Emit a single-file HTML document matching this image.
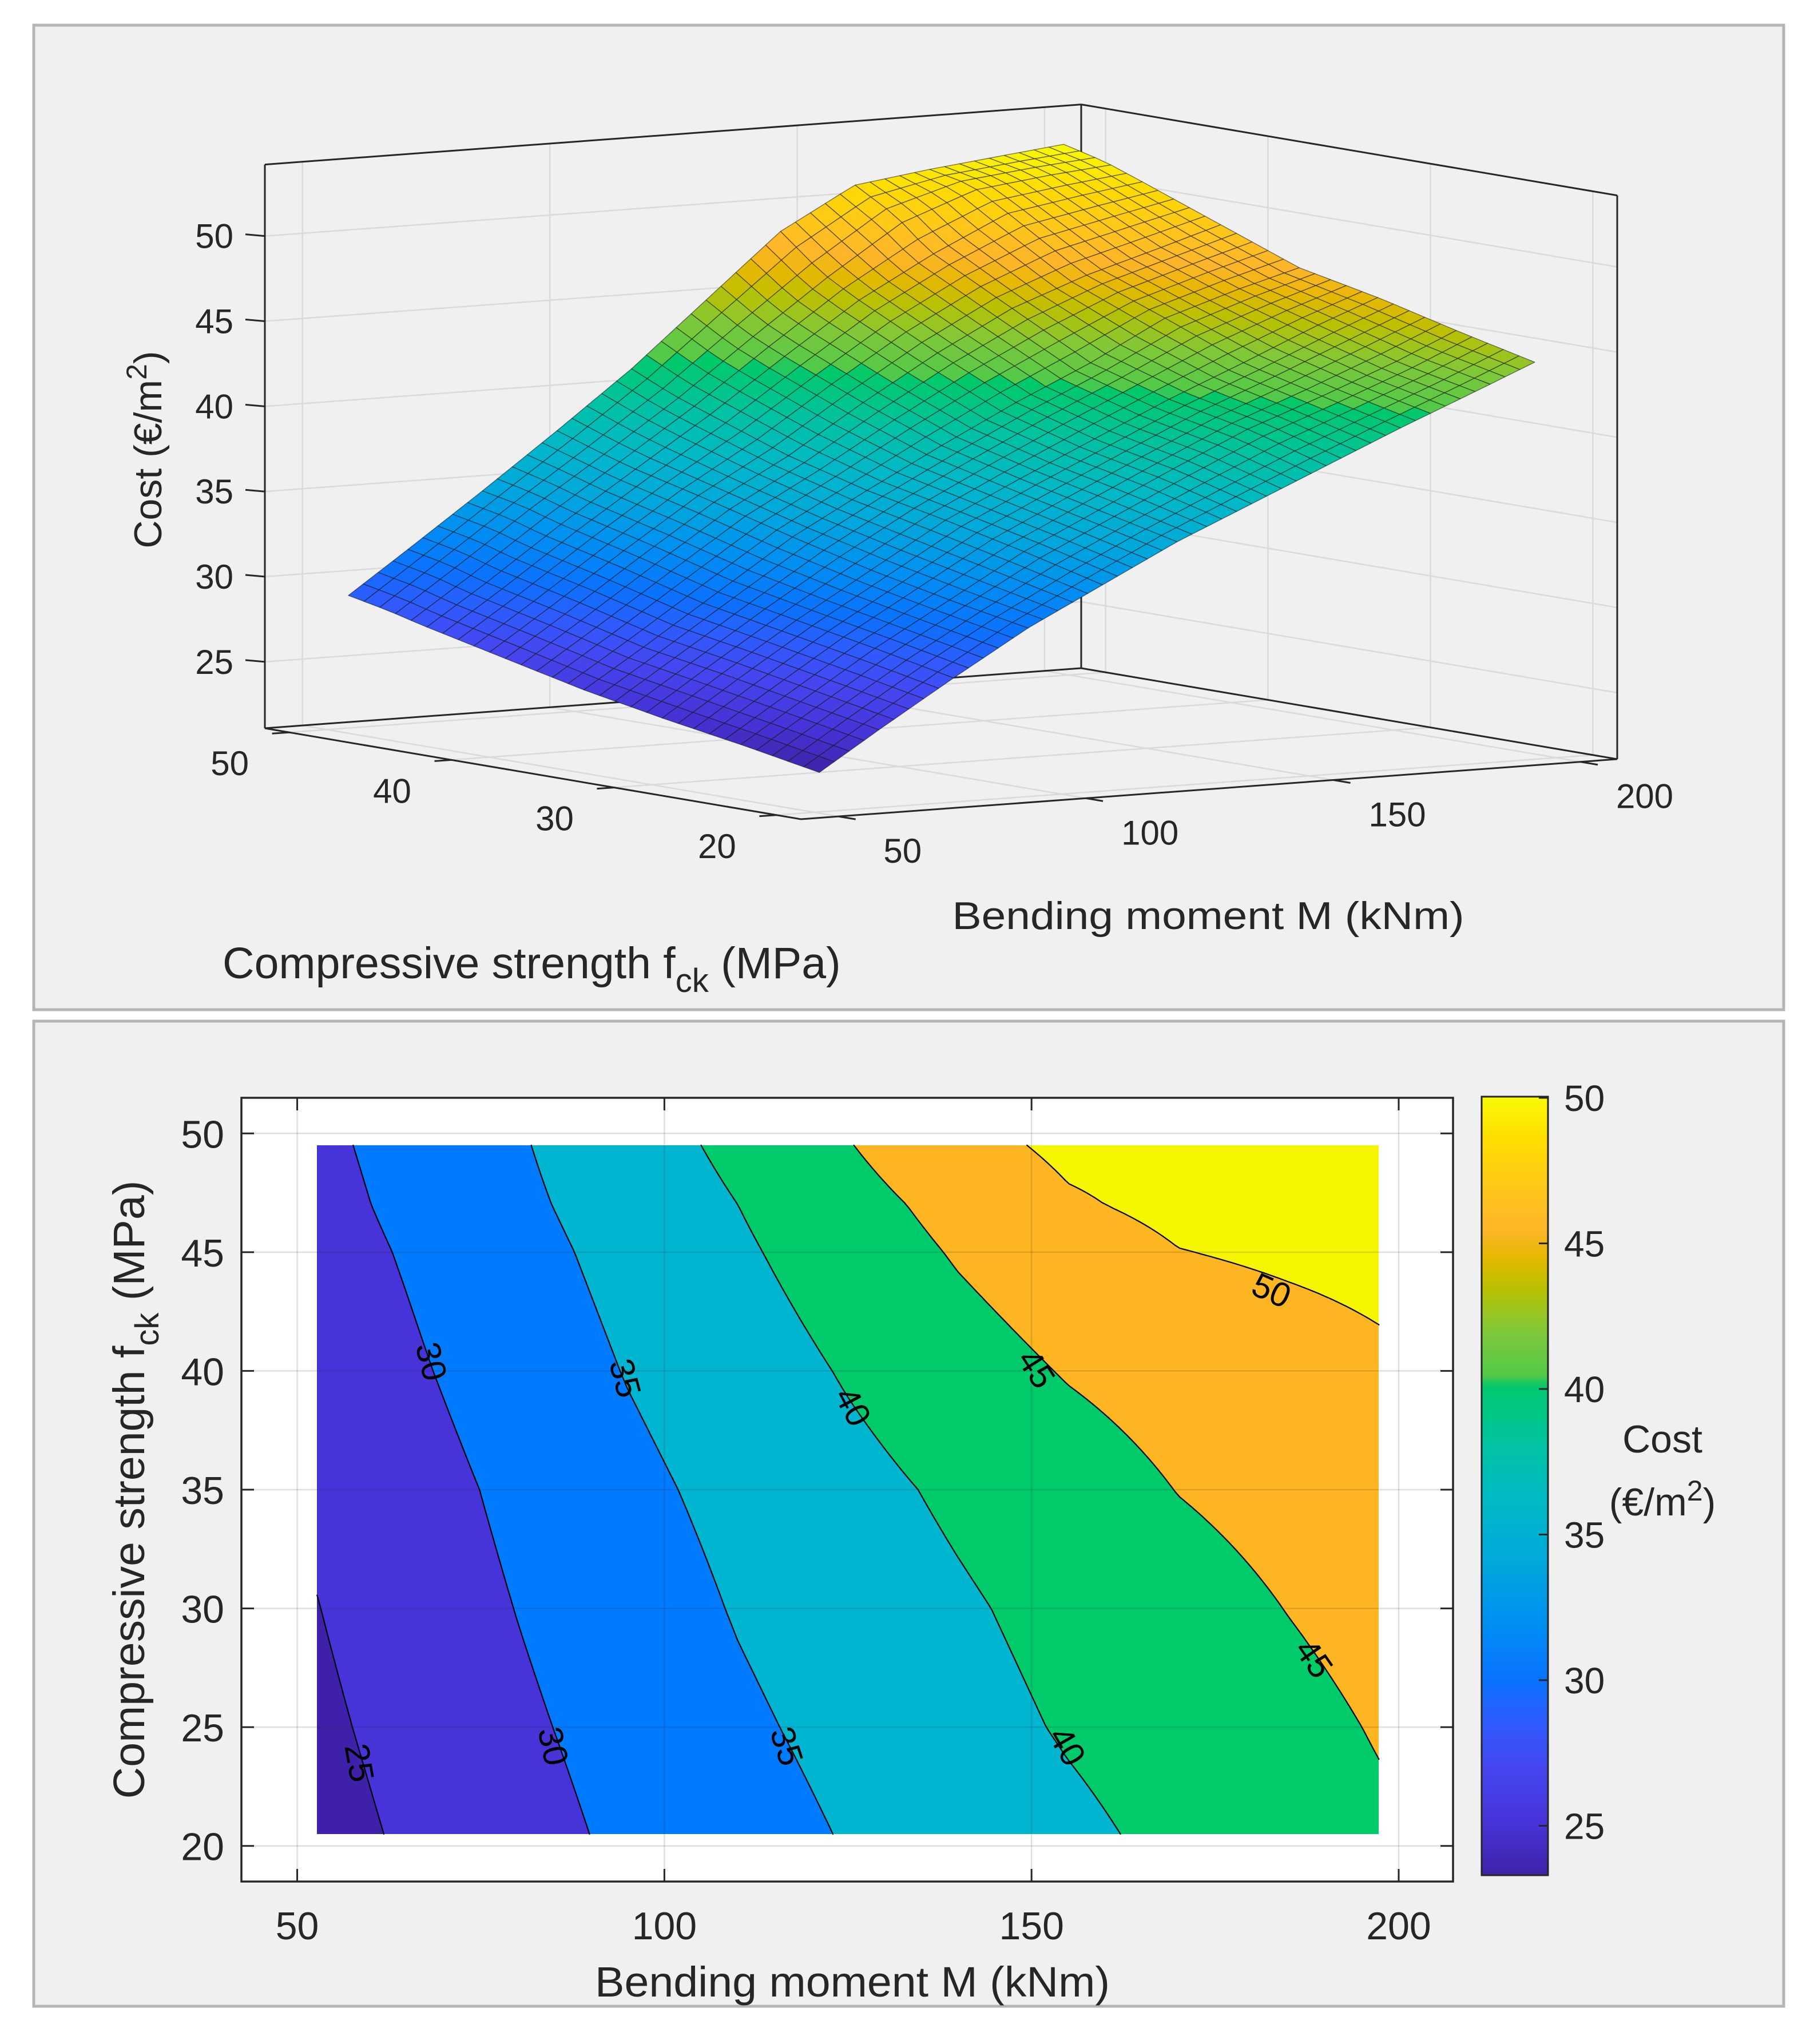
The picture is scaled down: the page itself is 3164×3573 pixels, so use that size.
<!DOCTYPE html>
<html><head><meta charset="utf-8"><style>
html,body{margin:0;padding:0;background:#fff;}
#root{position:relative;width:3164px;height:3573px;overflow:hidden;background:#fff;font-family:"Liberation Sans",sans-serif;}
svg,canvas{position:absolute;left:0;top:0;}
</style></head><body>
<div id="root">
<svg id="bg" width="3164" height="3573">
  <rect x="59" y="44" width="3059" height="1721" fill="#f0f0f0" stroke="#b4b4b4" stroke-width="5"/>
  <rect x="59" y="1785" width="3059" height="1722" fill="#f0f0f0" stroke="#b4b4b4" stroke-width="5"/>
  <rect x="422" y="1919" width="2118" height="1370" fill="#fff"/>
</svg>
<canvas id="fill"></canvas>
<svg id="fg" width="3164" height="3573" font-family="Liberation Sans, sans-serif" fill="#262626">
  <g id="s3d"></g>
  <g id="ctr"></g>
  <g id="cbar"></g>
</svg>
</div>
<script>
// ---- data ----
const M_VALUES = [52.7, 65, 80, 95, 110, 125, 140, 155, 170, 185, 197.3];
const FCK_VALUES = [20.5, 25, 30, 35, 40, 45, 47, 49.5];
const COST_F20 = [23.3,25.6,28.3,30.9,33.1,35.3,37.2,39.1,41.0,42.8,44.3];
const COST_F25 = [24.1,26.4,29.2,31.7,34.2,36.3,38.4,40.4,42.0,43.7,45.3];
const COST_F30 = [24.9,27.3,30.1,32.7,35.3,37.4,39.4,41.4,43.2,45.1,46.5];
const COST_F35 = [25.8,28.1,31.0,33.9,36.3,38.6,40.8,42.8,45.1,46.5,47.5];
const COST_F40 = [26.9,29.3,32.3,35.2,37.6,40.4,43.0,45.3,46.9,48.2,49.3];
const COST_F45 = [28.0,30.4,33.5,36.4,39.3,42.4,45.4,47.8,49.9,50.6,51.1];
const COST_F47 = [28.5,31.0,34.1,37.0,40.0,43.3,46.5,49.5,51.0,51.5,51.8];
const COST_F50 = [29.0,31.5,34.6,37.8,41.1,44.8,48.5,50.9,51.5,52.0,52.4];
const COST_ROWS = [COST_F20,COST_F25,COST_F30,COST_F35,COST_F40,COST_F45,COST_F47,COST_F50];
const CONTOUR_LEVELS = [25,30,35,40,45,50];
const M_TICKS = [50,100,150,200];
const FCK_TICKS_3D = [20,30,40,50];
const FCK_TICKS = [20,25,30,35,40,45,50];
const COST_TICKS = [25,30,35,40,45,50];
const CBAR_TICKS = [25,30,35,40,45,50];
const LABEL_M = [68.3,94.7,125.7,150.7,182.7,58.5,84.9,116.7,154.9,188.5];
const LABEL_F = [40.4,39.7,38.5,40.1,43.4,23.5,24.2,24.2,24.2,27.9];
const LABEL_TXT = ['30','35','40','45','50','25','30','35','40','45'];
const LABEL_ROT = [76,75,62,57,24,80,78,72,60,55];

// ---- styles ----
const BAND_COLORS = ['#3f20a8','#4634d8','#007bff','#00b5d0','#00cb6a','#fdb521','#f6f600'];
const CMAP = [[23.3,'#3e22a6'],[25,'#4633d6'],[27,'#4646f0'],[28.6,'#2d5cff'],[30,'#0a72ff'],[32,'#0090f2'],[34,'#00a8dc'],[36,'#00b8c8'],[38,'#00c2a4'],[40.2,'#00c96a'],[40.3,'#4fc94a'],[42,'#80c838'],[43.5,'#bcc000'],[44.5,'#e6b800'],[45.5,'#feb52a'],[47,'#fec818'],[48.5,'#fedc00'],[50,'#f8fa05']];
const NS='http://www.w3.org/2000/svg';
function hex(c){return [parseInt(c.slice(1,3),16),parseInt(c.slice(3,5),16),parseInt(c.slice(5,7),16)];}
function cmap(z){
  if(z<=CMAP[0][0]) return hex(CMAP[0][1]);
  for(let i=0;i<CMAP.length-1;i++){
    if(z<=CMAP[i+1][0]){const t=(z-CMAP[i][0])/(CMAP[i+1][0]-CMAP[i][0]);const a=hex(CMAP[i][1]),b=hex(CMAP[i+1][1]);return a.map((v,k)=>Math.round(v+(b[k]-v)*t));}
  }
  return hex(CMAP[CMAP.length-1][1]);
}
function rgb(a){return 'rgb('+a.join(',')+')';}
function el(tag,attrs,parent){const e=document.createElementNS(NS,tag);for(const k in attrs)e.setAttribute(k,attrs[k]);parent.appendChild(e);return e;}
function interpZ(m,f){
  const Ms=M_VALUES,Fs=FCK_VALUES;
  let i=0;while(i<Ms.length-2&&m>Ms[i+1])i++;
  let j=0;while(j<Fs.length-2&&f>Fs[j+1])j++;
  const t=Math.max(0,Math.min(1,(m-Ms[i])/(Ms[i+1]-Ms[i])));
  const s=Math.max(0,Math.min(1,(f-Fs[j])/(Fs[j+1]-Fs[j])));
  const r0=COST_ROWS[j],r1=COST_ROWS[j+1];
  return (1-t)*(1-s)*r0[i]+t*(1-s)*r0[i+1]+(1-t)*s*r1[i]+t*s*r1[i+1];
}

// ================= 3D surface =================
const MMIN=42.4,MMAX=207.4,FMIN=18.5,FMAX=51.5,ZMIN=21.1,ZMAX=54.2;
function P(m,f,z){const u=(m-MMIN)/(MMAX-MMIN),v=(f-FMIN)/(FMAX-FMIN);return [1400+u*1427-v*937,1432-u*105-v*159-(z-ZMIN)*29.77];}
const g3=document.getElementById('s3d');
function line3(a,b,stroke,w,name,parent){const e=el('line',{x1:a[0],y1:a[1],x2:b[0],y2:b[1],stroke:stroke,'stroke-width':w},parent||g3);

return e;}
const GC='#dadada';
M_TICKS.forEach(m=>{line3(P(m,FMAX,ZMIN),P(m,FMAX,ZMAX),GC,2.5,'grid-m-wall');line3(P(m,FMIN,ZMIN),P(m,FMAX,ZMIN),GC,2.5,'grid-m-floor');});
FCK_TICKS_3D.forEach(f=>{line3(P(MMAX,f,ZMIN),P(MMAX,f,ZMAX),GC,2.5,'grid-fck-wall');line3(P(MMIN,f,ZMIN),P(MMAX,f,ZMIN),GC,2.5,'grid-fck-floor');});
COST_TICKS.forEach(z=>{line3(P(MMIN,FMAX,z),P(MMAX,FMAX,z),GC,2.5,'grid-cost-wall');line3(P(MMAX,FMAX,z),P(MMAX,FMIN,z),GC,2.5,'grid-cost-wall');});
const BC='#262626';
[[P(MMIN,FMAX,ZMIN),P(MMIN,FMAX,ZMAX)],[P(MMIN,FMAX,ZMAX),P(MMAX,FMAX,ZMAX)],[P(MMAX,FMAX,ZMAX),P(MMAX,FMIN,ZMAX)],
 [P(MMAX,FMIN,ZMIN),P(MMAX,FMIN,ZMAX)],[P(MMAX,FMAX,ZMIN),P(MMAX,FMAX,ZMAX)],[P(MMIN,FMAX,ZMIN),P(MMAX,FMAX,ZMIN)],
 [P(MMAX,FMAX,ZMIN),P(MMAX,FMIN,ZMIN)],[P(MMIN,FMAX,ZMIN),P(MMIN,FMIN,ZMIN)],[P(MMIN,FMIN,ZMIN),P(MMAX,FMIN,ZMIN)]]
 .forEach(p=>line3(p[0],p[1],BC,3,'axes-box-edge'));
const NM=48,NF=30,m0=M_VALUES[0],m1=M_VALUES[M_VALUES.length-1],f0=FCK_VALUES[0],f1=FCK_VALUES[FCK_VALUES.length-1];
let zAll=[];COST_ROWS.forEach(r=>zAll=zAll.concat(r));
const ZLO=Math.min.apply(null,zAll),ZHI=Math.max.apply(null,zAll);
function surfColor(z){return cmap(23.3+(z-ZLO)*(50-23.3)/(ZHI-ZLO));}
const quads=[];
for(let i=0;i<NM;i++)for(let j=0;j<NF;j++){
  const ma=m0+(m1-m0)*i/NM,mb=m0+(m1-m0)*(i+1)/NM,fa=f0+(f1-f0)*j/NF,fb=f0+(f1-f0)*(j+1)/NF;
  const z=[interpZ(ma,fa),interpZ(mb,fa),interpZ(mb,fb),interpZ(ma,fb)];
  const pts=[P(ma,fa,z[0]),P(mb,fa,z[1]),P(mb,fb,z[2]),P(ma,fb,z[3])];
  const u=((ma+mb)/2-MMIN)/(MMAX-MMIN),v=((fa+fb)/2-FMIN)/(FMAX-FMIN);
  quads.push({pts,z:(z[0]+z[1]+z[2]+z[3])/4,d:105*u+159*v});
}
quads.sort((a,b)=>b.d-a.d);
const gs=el('g',{},g3);


quads.forEach(q=>{const p=el('polygon',{points:q.pts.map(p=>p[0].toFixed(1)+','+p[1].toFixed(1)).join(' '),fill:rgb(surfColor(q.z)),stroke:'rgba(20,20,20,0.55)','stroke-width':1.4,'stroke-linejoin':'round'},gs);

});
function txt(x,y,s,size,anchor,parent,name,extra){const t=el('text',Object.assign({x:x,y:y,'font-size':size,'text-anchor':anchor||'middle'},extra||{}),parent);t.textContent=s;

return t;}
COST_TICKS.forEach(z=>{const p=P(MMIN,FMAX,z);line3(p,[p[0]-34,p[1]-3],BC,3,'z-tick');txt(p[0]-55,p[1]+21,String(z),60,'end',g3,'z-tick-label');});
FCK_TICKS_3D.forEach(f=>{const p=P(MMIN,f,ZMIN);line3(p,[p[0]-30,p[1]+2],BC,3,'fck-tick');txt(p[0]-104,p[1]+75,String(f),60,'middle',g3,'fck-tick-label');});
M_TICKS.forEach(m=>{const p=P(m,FMIN,ZMIN);line3(p,[p[0]+30,p[1]+5],BC,3,'m-tick');txt(p[0]+112,p[1]+81,String(m),60,'middle',g3,'m-tick-label');});
txt(2112,1624,'Bending moment M (kNm)',68,'middle',g3,'x-axis-title-3d',{textLength:895,lengthAdjust:'spacingAndGlyphs'});
(function(){const t=el('text',{x:389,y:1710,'font-size':77,'text-anchor':'start'},g3);


t.innerHTML='Compressive strength f<tspan dy="24" font-size="58">ck</tspan><tspan dy="-24"> (MPa)</tspan>';})();
(function(){const t=el('text',{x:0,y:0,'font-size':68,'text-anchor':'middle',transform:'translate(282,786) rotate(-90)'},g3);


t.innerHTML='Cost (€/m<tspan dy="-26" font-size="50">2</tspan><tspan dy="26">)</tspan>';})();

// ================= contour =================
const AX0=422,AX1=2540,AY0=1919,AY1=3289,CM0=42.4,CM1=207.4,CF0=18.5,CF1=51.5;
function xC(m){return AX0+(m-CM0)*(AX1-AX0)/(CM1-CM0);}
function yC(f){return AY0+(CF1-f)*(AY1-AY0)/(CF1-CF0);}
const gc=document.getElementById('ctr');
(function(){
  const cv=document.getElementById('fill');
  const X0=Math.round(xC(m0)),X1=Math.round(xC(m1)),Y0=Math.round(yC(f1)),Y1=Math.round(yC(f0));
  const W=X1-X0,H=Y1-Y0;cv.width=W;cv.height=H;cv.style.left=X0+'px';cv.style.top=Y0+'px';
  const ctx=cv.getContext('2d');const img=ctx.createImageData(W,H);
  const bc=BAND_COLORS.map(hex);
  for(let py=0;py<H;py++){const f=f1-(py+0.5)/H*(f1-f0);
    for(let px=0;px<W;px++){const m=m0+(px+0.5)/W*(m1-m0);const z=interpZ(m,f);
      let b=0;while(b<CONTOUR_LEVELS.length&&z>=CONTOUR_LEVELS[b])b++;
      const c=bc[b],k=(py*W+px)*4;img.data[k]=c[0];img.data[k+1]=c[1];img.data[k+2]=c[2];img.data[k+3]=255;}}
  ctx.putImageData(img,0,0);
})();
M_TICKS.forEach(m=>{const e=el('line',{x1:xC(m),y1:AY0,x2:xC(m),y2:AY1,stroke:'rgba(38,38,38,0.15)','stroke-width':2.5},gc);

});
FCK_TICKS.forEach(f=>{const e=el('line',{x1:AX0,y1:yC(f),x2:AX1,y2:yC(f),stroke:'rgba(38,38,38,0.15)','stroke-width':2.5},gc);

});
(function(){
  const NX=240,NY=120,G=[];
  for(let j=0;j<=NY;j++){G.push([]);for(let i=0;i<=NX;i++)G[j].push(interpZ(m0+(m1-m0)*i/NX,f0+(f1-f0)*j/NY));}
  const X=i=>xC(m0+(m1-m0)*i/NX),Y=j=>yC(f0+(f1-f0)*j/NY);
  CONTOUR_LEVELS.forEach(L=>{
    let d='';
    for(let j=0;j<NY;j++)for(let i=0;i<NX;i++){
      const c=[[i,j,G[j][i]],[i+1,j,G[j][i+1]],[i+1,j+1,G[j+1][i+1]],[i,j+1,G[j+1][i]]];
      const pts=[];
      for(let k=0;k<4;k++){const a=c[k],b=c[(k+1)%4];
        if((a[2]<L)!==(b[2]<L)){const t=(L-a[2])/(b[2]-a[2]);pts.push([X(a[0]+(b[0]-a[0])*t),Y(a[1]+(b[1]-a[1])*t)]);}}
      for(let k=0;k+1<pts.length;k+=2)d+='M'+pts[k][0].toFixed(1)+' '+pts[k][1].toFixed(1)+'L'+pts[k+1][0].toFixed(1)+' '+pts[k+1][1].toFixed(1);
    }
    const p=el('path',{d:d,stroke:'#000','stroke-width':2.2,fill:'none','stroke-linecap':'round'},gc);
    
    
  });
})();
LABEL_TXT.forEach((s,k)=>{const x=xC(LABEL_M[k]),y=yC(LABEL_F[k]);
  const t=el('text',{x:0,y:21,'font-size':60,'text-anchor':'middle',fill:'#000',transform:'translate('+x.toFixed(1)+','+y.toFixed(1)+') rotate('+LABEL_ROT[k]+')'},gc);
  t.textContent=s;
  
  });
(function(){const r=el('rect',{x:AX0,y:AY0,width:AX1-AX0,height:AY1-AY0,fill:'none',stroke:'#262626','stroke-width':3.5},gc);

})();
M_TICKS.forEach(m=>{const x=xC(m);
  [[AY1,AY1-22],[AY0,AY0+22]].forEach(p=>{const e=el('line',{x1:x,y1:p[0],x2:x,y2:p[1],stroke:'#262626','stroke-width':3},gc);
  
  });
  txt(x,3390,String(m),68,'middle',gc,'x-tick-label');});
FCK_TICKS.forEach(f=>{const y=yC(f);
  [[AX0,AX0+22],[AX1,AX1-22]].forEach(p=>{const e=el('line',{x1:p[0],y1:y,x2:p[1],y2:y,stroke:'#262626','stroke-width':3},gc);
  
  });
  txt(392,y+25,String(f),68,'end',gc,'y-tick-label');});
txt(1490,3490,'Bending moment M (kNm)',74,'middle',gc,'x-axis-title',{textLength:900,lengthAdjust:'spacingAndGlyphs'});
(function(){const t=el('text',{x:0,y:0,'font-size':77,'text-anchor':'middle',transform:'translate(252,2604) rotate(-90)'},gc);


t.innerHTML='Compressive strength f<tspan dy="25" font-size="58">ck</tspan><tspan dy="-25"> (MPa)</tspan>';})();

// ================= colorbar =================
const CB_X0=2590,CB_X1=2706,CB_Y0=1917,CB_Y1=3278,CB_ZMAX=50.04,CB_ZMIN=23.3;
function yCb(z){return CB_Y0+(CB_ZMAX-z)*(CB_Y1-CB_Y0)/(CB_ZMAX-CB_ZMIN);}
const gb=document.getElementById('cbar');
(function(){
  const defs=el('defs',{},gb);const lg=el('linearGradient',{id:'cbg',x1:0,y1:1,x2:0,y2:0},defs);
  for(let k=0;k<=120;k++){const z=CB_ZMIN+(CB_ZMAX-CB_ZMIN)*k/120;el('stop',{offset:(k/120).toFixed(4),'stop-color':rgb(cmap(z))},lg);}
  const r=el('rect',{x:CB_X0,y:CB_Y0,width:CB_X1-CB_X0,height:CB_Y1-CB_Y0,fill:'url(#cbg)',stroke:'#262626','stroke-width':3},gb);
  
  
  CBAR_TICKS.forEach(z=>{const y=yCb(z);const e=el('line',{x1:CB_X1,y1:y,x2:CB_X1-16,y2:y,stroke:'#262626','stroke-width':3},gb);
    
    
    txt(2734,y+23,String(z),64,'start',gb,'colorbar-tick-label');});
  txt(2906,2539,'Cost',68,'middle',gb,'colorbar-title');
  const t=el('text',{x:2906,y:2649,'font-size':68,'text-anchor':'middle'},gb);
  
  
  t.innerHTML='(€/m<tspan dy="-26" font-size="50">2</tspan><tspan dy="26">)</tspan>';
})();
</script>
</body></html>
